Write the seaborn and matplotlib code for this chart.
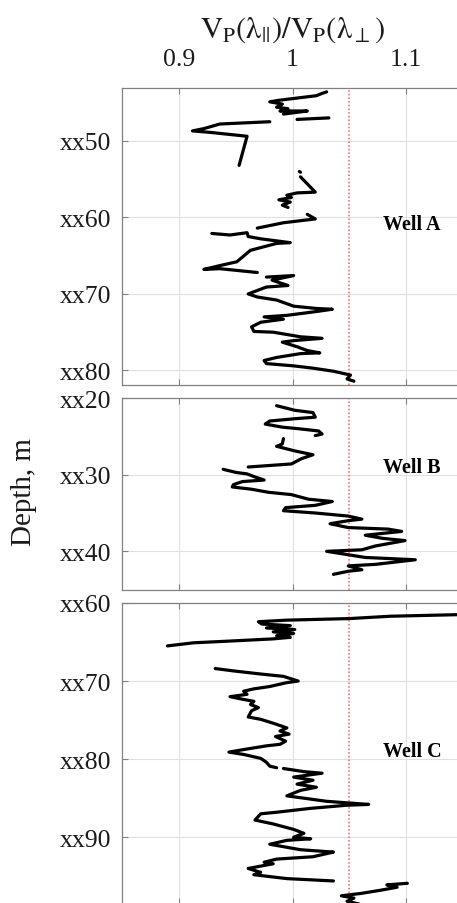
import numpy as np
import pandas as pd
import matplotlib
matplotlib.use("Agg")
import matplotlib.pyplot as plt
import seaborn as sns

sns.set_style("white")
plt.rcParams["font.family"] = ["Liberation Serif", "DejaVu Serif"]
plt.rcParams["mathtext.fontset"] = "stix"

nan = np.nan

# Well A: depth (m below xx00) and Vp ratio; NaN marks a gap in the log
depth_a = [43.6, 43.8, 44.1, 44.7, 44.9, 45.2, 45.6, 45.8, 46.1, 46.1, 46.5, nan,
           47.0, 47.2, nan,
           47.5, 47.8, 48.4, 48.7, 48.9, 49.4, 53.2, nan,
           54.0, 54.1, nan,
           54.7, 56.7, 56.8, 57.1, 57.4, 57.7, 58.0, 58.4, 58.7, nan,
           59.6, 60.2, 60.7, 61.4, nan,
           62.1, 62.3, 62.0, 62.5, 62.8, 63.3, 63.4, 64.3, 65.8, 66.3, 66.8, 66.7, 67.2, nan,
           67.8, 67.6, 68.2, 68.9, 69.1, 70.0, 70.4, 70.8, 71.6, 71.9, 72.0, 72.3, 72.8,
           73.0, 73.3, 73.7, 74.3, 74.9, 75.0, 75.6, 75.8, 76.1, 76.3, 76.9, 77.4, 77.7,
           77.8, 78.3, 78.7, 79.1, 79.4, 79.7, 80.1, 80.4, 80.6, 81.1, 81.4]
ratio_a = [1.030, 1.026, 1.021, 0.988, 0.980, 0.991, 0.986, 0.996, 0.989, 1.013, 0.992, nan,
           1.032, 1.004, nan,
           0.980, 0.936, 0.922, 0.912, 0.928, 0.960, 0.953, nan,
           1.006, 1.007, nan,
           1.007, 1.020, 1.004, 0.995, 0.999, 0.988, 0.998, 0.991, 0.996, nan,
           1.013, 1.020, 0.992, 0.969, nan,
           0.929, 0.945, 0.960, 0.961, 0.972, 0.998, 0.986, 0.963, 0.951, 0.936, 0.922, 0.936, 0.969, nan,
           0.977, 1.001, 0.982, 0.996, 0.977, 0.961, 0.969, 0.986, 1.001, 1.021, 1.035, 1.021, 0.995,
           0.975, 0.992, 0.972, 0.964, 0.966, 0.983, 1.007, 1.026, 1.001, 0.991, 1.004, 1.013, 1.024,
           1.007, 0.986, 0.975, 0.977, 1.001, 1.018, 1.036, 1.045, 1.051, 1.048, 1.054]

# Well B
depth_b = [21.0, 21.3, 21.6, 21.9, 22.5, 22.7, 23.0, 23.4, 23.8, 24.0, 24.3, 24.7, 24.9, nan,
           25.3, 26.0, 26.3, 26.9, 27.4, 27.9, 28.6, 29.0, nan,
           29.3, 29.7, 29.9, 30.3, 30.7, 30.9, 31.3, 31.6, 31.9, 32.3, 32.6, 33.2, 33.5, 34.0,
           34.3, 34.7, 35.0, 35.4, 35.8, 36.0, 36.4, 36.9, 37.1, 37.4, 37.9, 38.3, 38.6, 39.3,
           39.8, 40.0, 40.8, 41.1, 41.7, 41.9, 42.4, 42.6, 43.0]
ratio_b = [0.986, 0.994, 1.002, 1.018, 1.020, 1.002, 0.980, 0.976, 0.991, 1.005, 1.023, 1.026, 1.020, nan,
           0.992, 0.991, 0.986, 1.002, 1.018, 1.008, 0.999, 0.961, nan,
           0.939, 0.950, 0.960, 0.967, 0.975, 0.956, 0.948, 0.947, 0.964, 0.979, 0.999, 1.014, 1.035, 1.020,
           0.994, 0.992, 1.020, 1.049, 1.061, 1.049, 1.033, 1.049, 1.084, 1.096, 1.064, 1.079, 1.099, 1.073,
           1.061, 1.030, 1.064, 1.108, 1.073, 1.049, 1.061, 1.049, 1.036]

# Well C
depth_c = [61.45, 61.7, 62.0, 62.2, 62.4, 62.7, 62.9, 63.2, 63.4, 63.7, 63.9, 64.2, 64.4, 64.6,
           64.9, 65.1, 65.5, nan,
           68.4, 68.7, 69.1, 69.4, 70.0, 70.2, 70.7, 71.0, 71.3, 71.7, 72.0, 72.3, 72.6, 73.0,
           73.4, 73.8, 74.6, 74.9, 75.4, 76.0, 76.4, 76.8, 77.1, 77.7, 78.1, 78.3, 78.7, 79.1,
           79.4, 79.9, 80.4, 80.9, 81.1, nan,
           81.2, 81.6, 81.8, 82.3, 82.7, 83.2, 83.6, 84.0, 84.7, 85.0, 85.4, 85.8, 85.9, 86.3,
           86.8, 87.0, 87.8, 88.3, 89.0, 89.5, 90.0, 90.2, 90.4, 90.9, 91.6, 91.9, 92.2, 92.5,
           92.8, 93.2, 93.4, 94.0, 94.5, 94.8, 95.3, 95.6, nan,
           95.9, 96.1, 96.4, 96.8, 97.2, 97.5, 97.8, 98.2, 98.6]
ratio_c = [1.160, 1.086, 1.050, 0.995, 0.970, 0.973, 0.998, 0.977, 1.002, 0.983, 1.001, 0.986, 0.998, 0.983,
           0.942, 0.913, 0.890, nan,
           0.932, 0.948, 0.972, 0.992, 1.005, 0.995, 0.980, 0.966, 0.957, 0.960, 0.945, 0.955, 0.966, 0.963,
           0.970, 0.964, 0.961, 0.972, 0.983, 0.995, 0.989, 0.997, 0.985, 0.994, 0.989, 0.977, 0.960, 0.944,
           0.957, 0.972, 0.977, 0.980, 0.986, nan,
           0.992, 1.010, 1.026, 1.001, 1.018, 1.004, 1.021, 1.007, 0.995, 1.010, 1.030, 1.067, 1.048, 1.016,
           0.986, 0.972, 0.967, 0.983, 1.001, 1.010, 1.001, 1.016, 0.995, 0.980, 1.007, 1.036, 1.027, 1.018,
           0.986, 0.975, 0.983, 0.961, 0.972, 0.966, 0.995, 1.036, nan,
           1.101, 1.083, 1.092, 1.077, 1.060, 1.043, 1.054, 1.048, 1.060]

wells = ["Well A", "Well B", "Well C"]
depths = [depth_a, depth_b, depth_c]
ratios = [ratio_a, ratio_b, ratio_c]
depth_ticks = [[50, 60, 70, 80], [20, 30, 40], [60, 70, 80, 90]]
depth_limits = [(81.9, 43.1), (45.05, 20.0), (98.55, 60.0)]
label_depths = [60.8, 29.0, 79.0]

ratio_ticks = [0.9, 1.0, 1.1]
ratio_tick_labels = ["0.9", "1", "1.1"]
reference_ratio = 1.05

fig = plt.figure(figsize=(4.57, 9.04), dpi=100)
left, width = 0.2670, 0.7462
panel_boxes = [(0.5730, 0.3285), (0.3462, 0.2124), (-0.0011, 0.3330)]

edge = "#808080"
text_color = "#1a1a1a"
for i, (well, d, r) in enumerate(zip(wells, depths, ratios)):
    bottom, height = panel_boxes[i]
    ax = fig.add_axes([left, bottom, width, height])
    d = np.asarray(d, dtype=float)
    r = np.asarray(r, dtype=float)
    seg = np.cumsum(np.isnan(d))
    df = pd.DataFrame({"ratio": r, "depth": d, "seg": seg}).dropna()

    ax.grid(True, color="#e0e0e0", linewidth=0.8)
    ax.set_axisbelow(True)
    ax.axvline(reference_ratio, color="#ff5a5a", linestyle=(0, (1.0, 1.4)),
               linewidth=1.1, zorder=1)
    sns.lineplot(data=df, x="ratio", y="depth", units="seg", estimator=None,
                 sort=False, color="black", linewidth=2.3, ax=ax, legend=False,
                 zorder=3)

    ax.set_xlim(0.85, 1.15)
    ax.set_ylim(*depth_limits[i])
    ax.set_xticks(ratio_ticks)
    ax.set_yticks(depth_ticks[i])
    ax.set_yticklabels([f"xx{t}" for t in depth_ticks[i]])
    ax.set_xlabel("")
    ax.set_ylabel("")

    for s in ax.spines.values():
        s.set_color(edge)
        s.set_linewidth(0.9)
    ax.tick_params(axis="both", direction="in", length=4, width=0.8, color=edge,
                   top=True, right=True, bottom=True, left=True,
                   labelsize=18.5, labelcolor=text_color)
    ax.tick_params(axis="y", pad=8)
    if i == 0:
        ax.set_xticklabels(ratio_tick_labels)
        ax.tick_params(axis="x", labeltop=True, labelbottom=False, pad=13)
        ax.xaxis.set_label_position("top")
        ax.set_xlabel(r"$\mathrm{V_P(\lambda_{||})/V_P(\lambda_{\perp})}$",
                      fontsize=22, labelpad=8, color=text_color)
    else:
        ax.tick_params(axis="x", labeltop=False, labelbottom=False)

    ax.text(1.080, label_depths[i], well, fontsize=14.5, fontweight="bold",
            ha="left", va="center", color="black")

fig.text(24 / 457, 1 - 492 / 904, "Depth, m", rotation=90, fontsize=21,
         ha="center", va="center", color=text_color)

fig.savefig("out.png", dpi=100)
